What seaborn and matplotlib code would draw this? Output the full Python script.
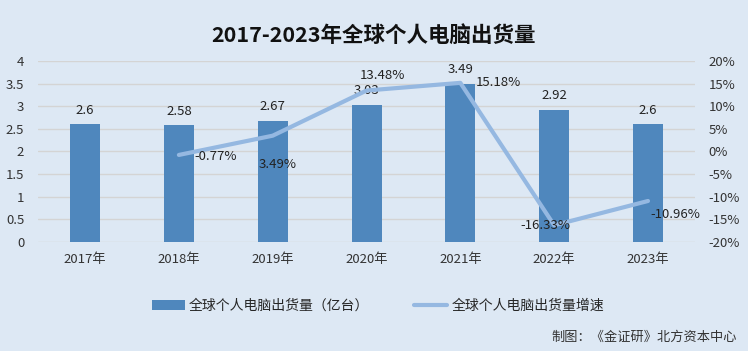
import pandas as pd
import matplotlib.pyplot as plt
import seaborn as sns

# ---------------------------------
# Data
# ---------------------------------

years = ["2017年", "2018年", "2019年", "2020年", "2021年", "2022年", "2023年"]
shipments = [2.6, 2.58, 2.67, 3.03, 3.49, 2.92, 2.6]
growth_years = ["2018年", "2019年", "2020年", "2021年", "2022年", "2023年"]
growth = [-0.77, 3.49, 13.48, 15.18, -16.33, -10.96]

bar_name = "全球个人电脑出货量（亿台）"
line_name = "全球个人电脑出货量增速"

bg = "#dde8f4"
bar_color = "#4f87bd"
line_color = "#95b8e1"

sns.set_style("white")
plt.rcParams["font.family"] = ["Noto Sans CJK SC", "DejaVu Sans"]

df = pd.DataFrame({"year": years, "shipments": shipments})
gdf = pd.DataFrame({"year": growth_years, "growth": growth})
gdf["pos"] = [years.index(y) for y in growth_years]

fig = plt.figure(figsize=(7.48, 3.51), dpi=100, facecolor=bg)
ax = fig.add_axes([0.051, 0.311, 0.878, 0.515])
ax.set_facecolor(bg)

sns.barplot(data=df, x="year", y="shipments", color=bar_color,
            width=0.32, saturation=1, linewidth=0, edgecolor="none",
            ax=ax, label=bar_name, zorder=2)

ax.set_ylim(0, 4)
ax.set_yticks([i * 0.5 for i in range(9)])
ax.set_yticklabels(["0", "0.5", "1", "1.5", "2", "2.5", "3", "3.5", "4"])
ax.yaxis.grid(True, color="#d4d4d4", linewidth=1)
ax.set_axisbelow(True)
ax.set_xlim(-0.5, 6.5)
ax.set_xlabel("")
ax.set_ylabel("")
for s in ax.spines.values():
    s.set_visible(False)
ax.tick_params(axis="both", length=0, labelsize=9.5, colors="#333333")
ax.tick_params(axis="x", pad=8)
ax.tick_params(axis="y", pad=10)

for i, v in enumerate(shipments):
    ax.text(i, v + 0.17, f"{v:g}", ha="center", va="bottom", fontsize=9.5, color="#222222")

ax2 = ax.twinx()
sns.lineplot(data=gdf, x="pos", y="growth", color=line_color, linewidth=3,
             ax=ax2, label=line_name, zorder=3)
ax2.set_ylim(-20, 20)
ax2.set_yticks(range(-20, 25, 5))
ax2.set_yticklabels([f"{t}%" for t in range(-20, 25, 5)])
ax2.set_ylabel("")
ax2.set_xlim(-0.5, 6.5)
for s in ax2.spines.values():
    s.set_visible(False)
ax2.tick_params(axis="y", length=0, labelsize=9.5, colors="#333333", pad=10)

# label offsets in points
offsets = [(11, -1), (-10, -21), (-5, 11), (11, 0), (-24, 0), (2, -10)]
for (x, y), (dx, dy) in zip(zip(gdf["pos"], gdf["growth"]), offsets):
    ax2.annotate(f"{y:.2f}%", (x, y), xytext=(dx, dy), textcoords="offset points",
                 ha="left", va="center", fontsize=9.5, color="#222222")

ax2.get_legend().remove()
h1, l1 = ax.get_legend_handles_labels()
h2, l2 = ax2.get_legend_handles_labels()
fig.legend(h1 + h2, l1 + l2, loc="center", bbox_to_anchor=(0.505, 0.128), ncol=2,
           frameon=False, fontsize=10, columnspacing=3.2, handlelength=2.4,
           handletextpad=0.3)
if ax.get_legend():
    ax.get_legend().remove()

fig.text(0.5, 0.9, "2017-2023年全球个人电脑出货量", ha="center", va="center",
         fontsize=15.5, fontweight="bold", color="#111111")
fig.text(0.985, 0.04, "制图：《金证研》北方资本中心", ha="right", va="center",
         fontsize=9.5, color="#333333")

fig.savefig("out.png", dpi=100, facecolor=bg)
